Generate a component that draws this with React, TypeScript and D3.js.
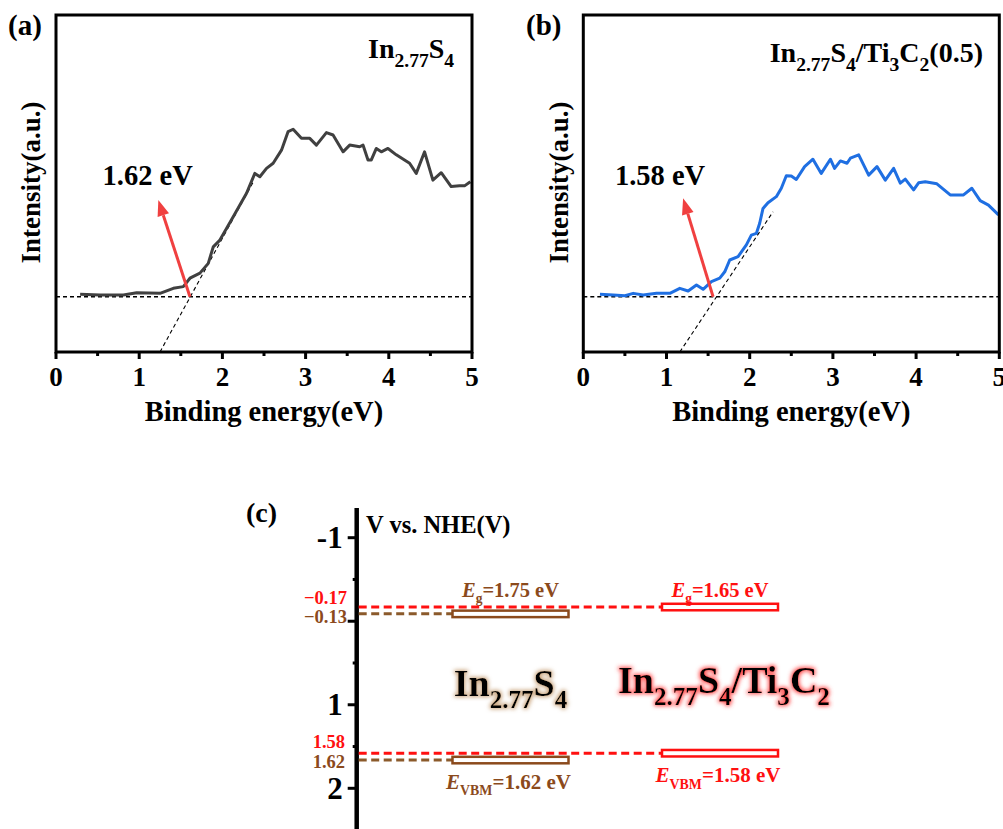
import React from "react";
import * as d3 from "d3";

// ---------- Data ----------
const energyA = [0.29,0.53,0.81,0.97,1.25,1.41,1.53,1.61,1.73,1.83,1.89,1.97,2.13,2.29,2.39,2.45,2.53,2.61,2.71,2.79,2.85,2.95,3.05,3.13,3.25,3.33,3.45,3.53,3.65,3.69,3.75,3.79,3.85,3.91,3.99,4.09,4.25,4.33,4.43,4.53,4.63,4.75,4.85,4.91,4.98];
const intensityA = [17.1,16.9,16.9,17.6,17.4,18.9,19.4,21.9,23.4,26.3,31.2,33.2,40.1,47.1,53.0,52.0,54.5,56.0,59.9,65.4,66.1,63.4,63.4,61.4,65.1,64.4,59.4,61.4,60.9,61.4,57.0,57.0,60.4,59.4,60.4,58.5,56.0,53.0,59.4,51.0,53.2,49.1,49.3,49.3,50.5];
const energyB = [0.20,0.36,0.50,0.60,0.72,0.88,1.04,1.16,1.26,1.36,1.44,1.54,1.64,1.70,1.76,1.86,1.96,2.02,2.08,2.12,2.16,2.22,2.32,2.38,2.44,2.50,2.56,2.66,2.76,2.86,2.97,3.02,3.09,3.17,3.21,3.31,3.43,3.53,3.63,3.73,3.81,3.87,3.97,4.03,4.11,4.25,4.41,4.57,4.67,4.77,4.87,4.99];
const intensityB = [17.1,16.9,16.7,17.4,16.9,17.4,17.4,18.9,18.1,19.9,18.6,20.9,21.9,23.8,27.3,28.3,31.8,34.7,35.2,38.2,42.6,44.3,46.1,48.6,52.3,52.2,51.2,55.0,57.2,53.0,57.2,54.5,56.7,56.0,57.5,58.5,52.5,55.0,51.0,54.5,50.1,51.3,48.1,50.2,50.5,49.9,46.6,46.6,48.6,44.9,43.6,40.7];

const baselineLevel = 16.4;
const tangentA = { e: [1.25, 2.37], i: [0, 50.4] };
const tangentB = { e: [1.16, 2.28], i: [0, 41.6] };
const arrowA = { e: [1.61, 1.23], i: [16.4, 45.1] };
const arrowB = { e: [1.56, 1.20], i: [16.4, 45.6] };
const edgeLabels = ["1.62 eV", "1.58 eV"];
const xTicks = [0, 1, 2, 3, 4, 5];
const xMinorTicks = [0.5, 1.5, 2.5, 3.5, 4.5];

// Panel (c)
const samples = ["In2.77S4", "In2.77S4/Ti3C2"];
const cbLevels = [-0.13, -0.17];
const vbLevels = [1.62, 1.58];
const bandGaps = [1.75, 1.65];
const potentialTicks = [-1, 0, 1, 2];
const potentialTickLabels = ["-1", "", "1", "2"];
const potentialMinorTicks = [-0.5, 0.5, 1.5];

const FONT = "'Liberation Serif', 'Times New Roman', serif";
const BROWN = "#8B4A1C";
const BROWN_LINE = "#8B5A2B";
const RED = "#FF1010";

type Part = [string, "n" | "sub" | "i"];

function Rich({ x, y, parts, size, anchor = "start", fill = "#000", filter, subScale = 0.66 }: any) {
  let shift = 0;
  const subSize = size * subScale;
  const off = size * 0.3;
  return (
    <text x={x} y={y} fontFamily={FONT} fontWeight="bold" fontSize={size} fill={fill} textAnchor={anchor} filter={filter}>
      {(parts as Part[]).map(([t, k], idx) => {
        const target = k === "sub" ? off : 0;
        const dy = target - shift;
        shift = target;
        return (
          <tspan key={idx} dy={dy} fontSize={k === "sub" ? subSize : size} fontStyle={k === "i" ? "italic" : "normal"}>
            {t}
          </tspan>
        );
      })}
    </text>
  );
}

function XpsPanel({ x0, x1, energy, intensity, color, tangent, arrow, edgeLabel, edgeE, letter, titleParts, titleE, titleI, yLabelX, letterX }: any) {
  const top = 15, bottom = 352;
  const x = d3.scaleLinear().domain([0, 5]).range([x0, x1]);
  const y = d3.scaleLinear().domain([0, 100]).range([bottom, top]);
  const line = d3.line<number>().x((_, i) => x(energy[i])).y((d) => y(d));
  const tan = d3.line<number>().x((_, i) => x(tangent.e[i])).y((d) => y(d));
  const ax0 = x(arrow.e[0]), ay0 = y(arrow.i[0]);
  const ax1 = x(arrow.e[1]), ay1 = y(arrow.i[1]);
  const ang = Math.atan2(ay1 - ay0, ax1 - ax0);
  const hl = 16, hw = 6;
  const bx = ax1 - hl * Math.cos(ang), by = ay1 - hl * Math.sin(ang);
  const head = [
    [ax1, ay1],
    [bx + hw * Math.sin(ang), by - hw * Math.cos(ang)],
    [bx - hw * Math.sin(ang), by + hw * Math.cos(ang)],
  ];
  return (
    <g>
      <text x={letterX} y={35} fontFamily={FONT} fontWeight="bold" fontSize={29}>{letter}</text>
      <line x1={x0} x2={x1} y1={y(baselineLevel)} y2={y(baselineLevel)} stroke="#000" strokeWidth={1.5} strokeDasharray="4 3" />
      <path d={tan(tangent.i) || ""} fill="none" stroke="#000" strokeWidth={1.1} strokeDasharray="4 3" />
      <path d={line(intensity) || ""} fill="none" stroke={color} strokeWidth={3} strokeLinejoin="round" />
      <line x1={ax0} y1={ay0} x2={bx} y2={by} stroke="#F04040" strokeWidth={3} />
      <polygon points={head.map((p) => p.join(",")).join(" ")} fill="#F04040" />
      <text x={x(edgeE)} y={y(49.6)} fontFamily={FONT} fontWeight="bold" fontSize={28.5}>{edgeLabel}</text>
      <rect x={x0} y={top} width={x1 - x0} height={bottom - top} fill="none" stroke="#000" strokeWidth={3} />
      {xTicks.map((t) => (
        <g key={t}>
          <line x1={x(t)} x2={x(t)} y1={bottom} y2={bottom + 7} stroke="#000" strokeWidth={3} />
          <text x={x(t)} y={386} textAnchor="middle" fontFamily={FONT} fontWeight="bold" fontSize={27}>{t}</text>
        </g>
      ))}
      {xMinorTicks.map((t) => (
        <line key={t} x1={x(t)} x2={x(t)} y1={bottom} y2={bottom + 4} stroke="#000" strokeWidth={3} />
      ))}
      <text x={(x0 + x1) / 2} y={421} textAnchor="middle" fontFamily={FONT} fontWeight="bold" fontSize={28.5}>Binding energy(eV)</text>
      <text transform={`translate(${yLabelX},${(top + bottom) / 2 - 1}) rotate(-90)`} textAnchor="middle" fontFamily={FONT} fontWeight="bold" fontSize={27}>Intensity(a.u.)</text>
      <Rich x={x(titleE)} y={y(titleI)} parts={titleParts} size={28} subScale={0.7} />
    </g>
  );
}

export default function App() {
  const yC = d3.scaleLinear().domain([-1, 2]).range([537.7, 788.3]);
  const xC = d3.scalePoint<string>().domain(samples).range([510.5, 720]);
  const axisX = 356.7;
  const boxW = 116, boxH = 6.5;
  const colors = [BROWN, RED];
  const lineColors = [BROWN_LINE, RED];
  const sep = [3.5, 0]; // visual separation of overlapping levels
  const labelDy = [9, -4];
  const nameParts: Part[][] = [
    [["In", "n"], ["2.77", "sub"], ["S", "n"], ["4", "sub"]],
    [["In", "n"], ["2.77", "sub"], ["S", "n"], ["4", "sub"], ["/Ti", "n"], ["3", "sub"], ["C", "n"], ["2", "sub"]],
  ];
  const glowColors = ["#c8a27a", "#ff4a4a"];
  const egY = yC(d3.min(cbLevels) as number) - 10;

  return (
    <svg width={1003} height={829} style={{ position: "absolute", left: 0, top: 0, background: "#fff" }}>
      <defs>
        {glowColors.map((c, i) => (
          <filter key={i} id={`glow${i}`} x="-10%" y="-30%" width="120%" height="160%">
            <feMorphology in="SourceAlpha" operator="dilate" radius={1.2} result="d" />
            <feGaussianBlur in="d" stdDeviation={2} result="b" />
            <feFlood floodColor={c} result="f" />
            <feComposite in="f" in2="b" operator="in" result="g" />
            <feMerge>
              <feMergeNode in="g" />
              <feMergeNode in="SourceGraphic" />
            </feMerge>
          </filter>
        ))}
      </defs>

      <XpsPanel x0={56} x1={472} energy={energyA} intensity={intensityA} color="#404040" tangent={tangentA} arrow={arrowA}
        edgeLabel={edgeLabels[0]} edgeE={0.56} letter="(a)" letterX={8} yLabelX={40} titleE={3.75} titleI={87.2}
        titleParts={[["In", "n"], ["2.77", "sub"], ["S", "n"], ["4", "sub"]]} />
      <XpsPanel x0={583.3} x1={999.3} energy={energyB} intensity={intensityB} color="#1F6FE2" tangent={tangentB} arrow={arrowB}
        edgeLabel={edgeLabels[1]} edgeE={0.38} letter="(b)" letterX={526} yLabelX={568} titleE={2.24} titleI={86}
        titleParts={[["In", "n"], ["2.77", "sub"], ["S", "n"], ["4", "sub"], ["/Ti", "n"], ["3", "sub"], ["C", "n"], ["2", "sub"], ["(0.5)", "n"]]} />

      {/* Panel (c) */}
      <g>
        <text x={246} y={522} fontFamily={FONT} fontWeight="bold" fontSize={28}>(c)</text>
        <line x1={axisX} x2={axisX} y1={508} y2={829} stroke="#000" strokeWidth={4.5} />
        {potentialTicks.map((t, i) => (
          <g key={t}>
            <line x1={axisX - 9} x2={axisX} y1={yC(t)} y2={yC(t)} stroke="#000" strokeWidth={3} />
            <text x={axisX - 14} y={yC(t) + 10.5} textAnchor="end" fontFamily={FONT} fontWeight="bold" fontSize={31}>{potentialTickLabels[i]}</text>
          </g>
        ))}
        {potentialMinorTicks.map((t) => (
          <line key={t} x1={axisX - 4} x2={axisX} y1={yC(t)} y2={yC(t)} stroke="#000" strokeWidth={3} />
        ))}
        <text x={366} y={533} fontFamily={FONT} fontWeight="bold" fontSize={24.5}>V vs. NHE(V)</text>

        {samples.map((s, i) => {
          const cx = xC(s) as number;
          const cy = yC(cbLevels[i]) + sep[i];
          const vy = yC(vbLevels[i]) + sep[i];
          const bx = cx - boxW / 2;
          return (
            <g key={s}>
              <line x1={axisX + 2} x2={bx} y1={cy} y2={cy} stroke={lineColors[i]} strokeWidth={3} strokeDasharray="8 4.5" />
              <line x1={axisX + 2} x2={bx} y1={vy} y2={vy} stroke={lineColors[i]} strokeWidth={3} strokeDasharray="8 4.5" />
              <rect x={bx} y={cy - boxH / 2} width={boxW} height={boxH} fill="#fff" stroke={colors[i]} strokeWidth={2.5} />
              <rect x={bx} y={vy - boxH / 2} width={boxW} height={boxH} fill="#fff" stroke={colors[i]} strokeWidth={2.5} />
              <text x={347} y={cy + labelDy[i] + 0.5} textAnchor="end" fontFamily={FONT} fontWeight="bold" fontSize={18.5} fill={colors[i]}>
                {d3.format(".2f")(cbLevels[i])}
              </text>
              <text x={345} y={vy + labelDy[i] - 1} textAnchor="end" fontFamily={FONT} fontWeight="bold" fontSize={18.5} fill={colors[i]}>
                {d3.format(".2f")(vbLevels[i])}
              </text>
              <Rich x={cx} y={egY} anchor="middle" size={20.5} fill={colors[i]}
                parts={[["E", "i"], ["g", "sub"], [`=${bandGaps[i].toFixed(2)} eV`, "n"]]} />
              <Rich x={cx - 2} y={vy + 29} anchor="middle" size={21} fill={colors[i]}
                parts={[["E", "i"], ["VBM", "sub"], [`=${vbLevels[i].toFixed(2)} eV`, "n"]]} />
              <Rich x={cx + (i === 1 ? 4 : 0)} y={(yC(cbLevels[i]) + yC(vbLevels[i])) / 2 + 13} anchor="middle" size={38} fill="#000"
                filter={`url(#glow${i})`} parts={nameParts[i]} />
            </g>
          );
        })}
      </g>
    </svg>
  );
}
